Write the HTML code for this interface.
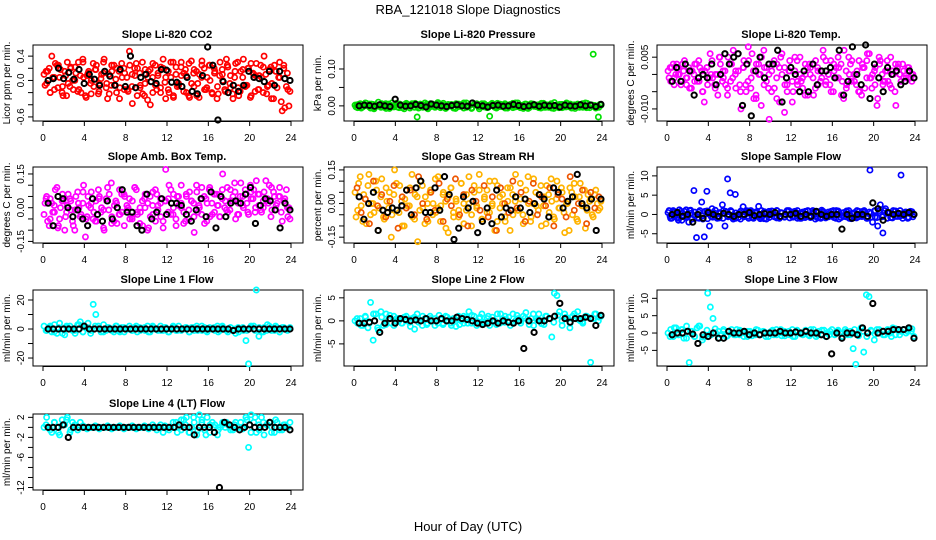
<!DOCTYPE html>
<html><head><meta charset="utf-8"><style>
body{margin:0;background:#fff;}
svg{display:block;font-family:"Liberation Sans",sans-serif;}
</style></head><body>
<svg id="c" width="936" height="540" viewBox="0 0 936 540">
<rect width="936" height="540" fill="#fff"/>
<text x="468" y="14" text-anchor="middle" font-size="13">RBA_121018  Slope Diagnostics</text>
<text x="468" y="531" text-anchor="middle" font-size="13">Hour of Day (UTC)</text>
</svg>
<script>
// x-axis tick values (hours)
const xTicks = [0,4,8,12,16,20,24];
// Panel titles, units, colours
const titles = ["Slope Li-820 CO2","Slope Li-820 Pressure","Slope Li-820 Temp.","Slope Amb. Box Temp.","Slope Gas Stream RH","Slope Sample Flow","Slope Line 1 Flow","Slope Line 2 Flow","Slope Line 3 Flow","Slope Line 4 (LT) Flow"];
const yTitles = ["Licor ppm per min.","kPa per min.","degrees C per min.","degrees C per min.","percent per min.","ml/min per min.","ml/min per min.","ml/min per min.","ml/min per min.","ml/min per min."];
const colors = ["#ff0000","#00e000","#ff00ff","#ff00ff","#ffb300","#0000ff","#00ffff","#00ffff","#00ffff","#00ffff"];
const colorsC = ["#ff0000","#00e000","#ff00ff","#ff00ff","#ee5500","#0000ff","#00ffff","#00ffff","#00ffff","#00ffff"];
const units = [0.01,0.001,0.001,0.01,0.01,1,1,1,1,1];
const yDomains = [[-0.667,0.583],[-0.041,0.165],[-0.0135,0.00853],[-0.157,0.181],[-0.176,0.163],[-7.4,12.3],[-25.5,26.9],[-9.8,6.7],[-9.5,12.4],[-12.5,2.67]];
const yTickVals = [[-0.6,-0.4,-0.2,0,0.2,0.4],[0,0.05,0.1],[-0.01,-0.005,0,0.005],[-0.15,-0.1,-0.05,0,0.05,0.1,0.15],[-0.15,-0.1,-0.05,0,0.05,0.1,0.15],[-5,0,5,10],[-20,-10,0,10,20],[-5,0,5],[-5,0,5,10],[-12,-10,-8,-6,-4,-2,0,2]];
const yTickLabels = [["-0.6","","","0.0","","0.4"],["0.00","","0.10"],["-0.010","","","0.005"],["-0.15","","","0.00","","","0.15"],["-0.15","","","0.00","","","0.15"],["-5","0","5","10"],["-20","","0","","20"],["-5","0","5"],["-5","0","5","10"],["-12","","","-6","","-2","","2"]];

// coloured series A (per panel, in panel units)
const seriesA = [
[10,-5,20,40,-15,25,5,-20,15,30,-10,0,22,-18,8,35,-25,12,-5,28,18,-22,3,30,-12,10,-8,25,-20,15,28,-15,5,48,-10,20,-25,12,30,-5,-32,18,-20,25,8,-12,35,-30,15,5,-28,22,-8,30,12,-20,28,-5,18,-25,10,32,-15,5,25,-22,15,-10,30,0,-18,22,8,-30,28,-12,15,35,-8,20,-25,10,28,-15,5,40,-22,18,-5,25,-12,30,-50,-45,12,-18],
[2,-5,6,-3,8,0,-6,4,-2,10,-4,3,-7,5,1,-3,7,-5,2,-8,4,0,6,-4,-30,3,-2,8,-6,1,5,-3,9,-5,2,-7,4,0,-4,6,-2,3,-6,8,-1,-5,4,2,-8,6,-3,1,-28,5,-4,7,-2,3,-6,0,4,-5,8,-2,1,-7,5,-3,6,-1,2,-5,7,-4,3,0,-6,9,-2,4,-5,1,6,-3,2,-7,5,0,-4,8,-2,3,140,-6,-30,2],
[1,-2,3,0,2,-3,1,-1,2,-4,0,3,-2,1,-8,2,-1,4,-3,0,5,-2,1,-4,3,-1,0,6,-5,2,-3,8,-4,1,-6,3,-9,7,-2,0,-5,4,-7,2,6,-11,-3,1,-8,5,-2,0,-4,3,-6,2,-1,4,-3,1,5,-2,0,-5,3,-1,2,-6,7,-3,0,4,-2,1,-5,3,-4,6,-1,0,2,-7,4,-3,1,-2,5,0,-9,3,-2,1,-1,2,0,-1],
[-3,5,-8,2,-2,9,-5,3,-10,1,4,-6,-1,7,-4,2,-13,5,0,-5,3,8,-2,-9,4,-1,11,-6,2,-3,6,-8,1,4,-4,9,-2,-7,3,0,-10,5,-3,8,-1,2,-6,17,4,-3,6,-8,1,10,-2,5,-5,3,-11,7,0,4,-7,2,9,-3,6,1,-4,15,3,-2,8,5,-5,2,11,0,6,-3,4,8,12,1,-2,7,3,10,-1,5,2,9,-6,4,0,-5],
[5,-3,12,-8,2,8,-5,0,10,-12,3,-6,7,-2,-15,4,9,-4,1,-10,6,-1,13,-7,3,-3,8,-9,0,5,-5,11,-2,-8,4,1,-13,7,-4,2,-6,9,0,-3,12,-10,5,-1,6,-7,3,-4,10,0,-12,8,-2,4,-8,1,7,-5,13,-3,2,-9,6,0,-6,11,-1,4,-10,3,8,-4,1,-7,10,-2,5,-13,0,7,-5,3,-8,9,-1,-11,4,2,-6,6,-3,1],
[0.5,-1,1,0,-1.5,0.8,-0.5,1.2,-2,0.3,6.2,-6,-1,3.2,-5.8,6,-3,1.5,-0.5,-1,0.5,2.5,-3,9.2,5.6,-0.8,5.2,0,-1.2,2,0.5,-0.5,1,-1,0.3,2.1,-0.8,0.5,-1.2,0.8,0,-0.5,1,-0.8,0.4,-0.6,1,0,-0.5,0.8,-1,0.3,0.6,-0.4,1,-0.8,0.2,-0.5,0.7,-1,0.5,0,-0.6,0.8,-0.3,1,-1.2,0.4,-0.5,0.9,-1,0.3,-0.8,1,0,-0.5,0.6,-1,11.5,-2,1,-3,2.5,-4.8,1.5,0.5,-0.8,1,-0.5,0.2,10.2,-0.3,0.6,-0.8,0.4,0],
[2,-1,1,-2,3,-3,4,0,-4,1,2,-1,-3,3,5,-2,1,4,-3,17,10,2,-2,3,-1,1,0,-2,2,-1,1,-2,0,2,-1,1,-2,1,0,-1,2,-2,1,0,-1,2,-1,1,-2,0,1,-1,2,-1,0,1,-2,1,-1,2,0,-1,1,-2,1,0,-1,2,-1,1,0,-2,1,-1,-3,1,0,-1,-8,-24,1,2,27,-5,-2,1,-1,2,0,-1,1,-2,1,0,-1,1],
[0,-0.5,0.5,-1,0.8,-1.5,4,-4.2,1.5,-2,2,-1,1.5,0.5,-0.5,1,0.5,0,-0.5,0.8,0,-0.3,0.5,-1.8,1.5,0,-1,0.5,-0.5,1,0,0.5,-0.5,0.3,-0.8,1,0,-0.5,0.5,-1.2,1,0,-0.5,0.8,2,-0.5,1,-1,0.5,1.5,-0.3,0.5,-1,0.8,0,1.5,-0.5,0.5,1,0,-1,1.5,0,0.5,-0.5,1,1.8,0,0.5,-1,0.5,1.5,0,-0.8,1,0.5,-3.5,6,5.5,2,-1,1.5,0.5,-1.5,1,0.5,2,0,-0.5,1,0.8,-9,0.5,1.5,0,1],
[0,1,-1,1.5,-0.5,1,-1.5,2,-8.5,0.5,-1,1.5,2,-2,-1,11.5,7.5,4.2,0,0.5,-0.5,1,-1,0.5,0,-0.5,1,-0.5,0.5,0,-1,0.5,0,-0.5,0.8,-0.3,0.5,-1,0,0.5,-0.5,1,0,-0.8,0.5,0,-0.5,1,-1,0.5,0,-0.5,0.8,-0.5,1,0,-1,0.5,-0.3,0.8,0,-0.5,1,-0.5,0.5,0,-1,1,-0.5,0.5,-4.5,-9,0,1.5,-5.5,11,10.5,0.5,-2,1,0,0.5,-0.5,1,0,1.5,-0.5,1,0.5,1,0,1,0.5,-1],
[0,2,0,-1,1,0,-1.5,1.5,0.5,2,-1,1,0,-0.5,1,0,0,0,0,0,0,0,0,0,0,0,0,0,0,0,0,0,0,0,0,0,0,0,0,0,0,0,0,0,0,0.5,-1,0,0,0,0,1,0,-0.5,1.5,2,-1,0,1,-1.5,2.5,1.5,-0.5,2,-1,1,0.5,-1.5,0,1,0,0.5,0,-0.5,1,0,1,0,2,-4,2.5,1,-1,0.5,2,-1.5,0.5,1,0,-1,1,0,-0.5,0.5,0,1]
];
// coloured series B (second pass)
const seriesB = [
[-8,15,-20,5,28,-12,18,-25,8,-5,22,-15,12,30,-20,5,-28,15,0,-10,25,-18,10,35,-5,-22,15,-8,20,-30,5,12,-15,25,-38,8,20,-12,-22,18,5,-40,28,-8,12,-20,20,5,-15,30,-25,10,-5,22,-18,8,-25,32,-10,15,-28,5,20,-12,25,-20,12,-30,8,18,-15,25,-5,-22,15,30,-18,5,-10,20,-28,12,8,-15,25,-20,10,-8,22,-30,15,5,-35,25,-10,-42],
[-3,4,-6,2,7,-2,5,-8,3,0,6,-4,2,-7,8,1,-3,5,-5,4,0,-6,3,7,-2,5,-4,1,-8,6,2,-3,4,-1,7,-5,0,3,-6,2,5,-2,8,-4,1,-7,3,6,-3,0,4,-5,2,7,-1,-4,5,-2,6,-6,3,0,-3,8,-5,2,4,-7,1,5,-2,3,-6,7,0,-4,6,-1,2,-5,4,-3,8,0,-6,3,1,-4,5,-2,7,-5,2,0,-3,4],
[-1,2,-3,3,0,-2,4,-1,-4,1,3,-2,2,-5,1,-3,6,-1,0,-6,3,1,-3,5,-2,7,-4,1,-10,2,-5,4,-1,-7,3,0,5,-3,2,-13,1,-4,3,-8,0,2,-5,4,-2,1,-3,5,-1,-6,2,0,3,-4,1,-2,7,-3,0,4,-5,2,-1,3,-7,1,5,-2,0,-3,4,-6,2,-1,6,-4,1,-9,3,0,-2,4,-3,1,-5,2,0,3,-2,1,-1,0],
[2,-6,4,-2,8,-9,0,3,-4,6,-1,-8,5,2,-3,10,-5,1,7,-2,-6,4,0,-10,3,6,-4,1,-7,8,-2,5,-1,-5,3,9,-3,0,-8,6,2,-4,7,-6,1,4,-9,3,-2,8,0,-5,5,2,-7,6,-1,3,-4,10,1,-3,5,-6,8,2,-2,6,-4,4,0,9,-1,3,7,-3,5,1,8,-2,10,4,0,6,-1,3,12,2,-4,7,1,5,-2,3,8,0],
[-6,9,-1,4,-9,13,0,-4,6,-2,11,-7,1,5,-5,15,-3,8,-10,2,-1,7,-6,4,-17,10,-2,3,-8,6,0,-4,12,-1,5,-11,3,7,-6,1,-3,9,-9,4,0,-5,8,-2,13,-7,2,6,-4,-1,10,-8,3,0,-6,7,-12,4,1,-3,9,-5,2,12,-8,0,5,-3,8,-1,-9,4,11,-6,2,-2,7,-4,0,-12,5,9,-7,3,-1,6,-3,1,-5,4,0,-2],
[1,-1,0.5,-0.8,1.2,-1.5,0.8,-0.5,1,-1.2,0.6,-0.9,1,-0.4,0.8,-1.1,0.5,-0.7,1.1,-0.9,0.3,-1,0.8,-0.6,1,-1.2,0.4,-0.8,0.9,-0.5,1,-1,0.6,-0.9,0.7,-0.4,1,-1.1,0.5,-0.8,0.9,-0.6,1,-1,0.4,-0.7,0.8,-0.9,0.6,-0.5,1,-1,0.3,-0.8,0.9,-0.6,1,-1.2,0.5,-0.7,0.8,-0.9,0.6,-0.4,1,-1,0.7,-0.8,0.5,-0.6,1,-1.1,0.4,-0.9,0.8,-0.5,1,-1,0.6,-0.7,0.9,-0.8,0.5,-0.6,1,-1,0.4,-0.9,0.8,-0.5,1,-1,0.6,-0.7,0.8,-0.6],
[],[],[],[]
];
// coloured series C (third pass)
const seriesC = [
[15,-20,5,25,-10,-25,20,0,-15,30,8,-22,18,-5,12,-30,25,2,-12,20,-18,10,28,-8,-25,15,5,-15,22,-3,-20,30,-10,8,18,-28,12,-5,25,-15,0,20,-22,10,35,-12,5,-25,18,-8,28,-18,8,22,-10,-30,15,5,20,-15],
[3,-4,1,5,-6,2,-2,6,-3,0,4,-5,7,-1,2,-6,3,5,-2,-4,6,0,-3,4,-7,2,5,-1,-5,3,0,6,-4,1,-6,4,2,-3,7,-2,0,5,-5,3,-1,6,-4,2,-7,1,4,-3,5,0,-2,6,-5,3,1,-4],
[2,-1,0,3,-3,1,-2,4,-5,2,0,-4,5,-1,-6,3,1,-3,4,-2,6,-7,0,2,-4,3,-1,5,-3,1,-5,4,-2,0,3,-6,2,-1,4,-3,1,5,-2,-4,3,0,-5,2,4,-1,-3,5,-2,1,-4,3,0,-1,2,-2],
[4,-5,1,-8,6,-2,3,-10,0,7,-4,2,-6,5,-1,9,-7,3,-3,6,0,-5,8,-2,4,-9,1,6,-4,3,10,-3,5,0,-6,7,2,-2,9,4,-4,6,1,8,-1,3,11,-3,5,2,7,-2,6,0,4,9,-1,5,3,-4],
[7,-4,2,-9,10,-1,4,-6,1,8,-11,3,-2,6,-5,12,0,-7,5,-3,9,-8,2,-1,11,-5,4,-10,6,1,-3,8,-6,3,-12,7,0,-4,10,-2,5,-8,1,9,-5,3,-1,7,-10,4,2,-6,12,-3,0,6,-9,5,-2,3],
[-0.5,0.7,-1,0.4,-0.8,1.1,-0.3,0.6,-1.2,0.9,-0.5,0.3,-0.9,1,-0.4,0.7,-1,0.5,-0.6,0.9,-0.8,0.4,-1.1,0.7,-0.2,0.8,-0.9,0.5,-0.6,1,-0.7,0.3,-1,0.8,-0.4,0.6,-0.9,1.1,-0.5,0.4,-0.8,0.9,-0.3,0.7,-1,0.5,-0.6,0.8,-0.9,0.3,-0.7,1,-0.4,0.6,-0.8,0.9,-0.5,0.4,-1,0.7],
[-1,2,-2,1,-3,2,0,-1,3,-2,1,-1,2,0,-2,1,-1,2,-2,1,0,-1,2,-1,1,-2,2,0,-1,1,-2,2,-1,0,1,-2,1,-1,2,-1,0,1,-2,2,-1,1,0,-2,1,-1,2,-1,1,-2,3,-1,2,-2,1,0],
[0.5,-1,1,-0.5,1.5,-1.5,0.8,-0.8,1.2,-1,0.5,-0.5,1,-1.2,0.8,-0.3,1,-0.8,0.5,-1,1.2,-0.5,0.8,-1,0.3,-0.8,1,-0.5,1.2,-0.2,0.8,-0.6,1,0,-0.8,1.5,-0.3,0.8,-0.5,1.2,0,0.6,-0.8,1.5,0.2,-0.6,1,0.5,-0.3,1.2,0,0.8,-0.5,1.5,0.3,-0.2,1,0.6,1.5,0.8],
[-1,1.5,-0.5,1,-1.5,0.5,-1,2,-1.2,0.8,-0.5,1.2,-1.5,0.5,-0.8,1,-0.5,0.8,-1,0.5,-0.8,1,-0.5,0.3,-1,0.8,-0.5,1,-0.8,0.5,-1,0.8,-0.3,0.5,-0.8,1,-0.5,0.8,-1,0.5,-0.3,0.8,-1.2,0.5,-0.5,1,-0.8,0.5,-1,0.8,-0.3,1,-0.5,0.8,-1,1.2,-0.5,1,0.5,1.2],
[0.5,-0.5,1,-1,0.5,1.5,-0.5,0.5,0,0.3,-0.3,0,0.3,-0.3,0,0.3,-0.3,0,0.3,-0.3,0,0.3,-0.3,0,0.3,-0.3,0.5,-0.5,0,0.3,-0.5,1,-1,1.5,0.5,-1,2,-0.5,1,-1.5,0.5,0,-0.5,0.5,1,-0.5,0.5,0,-0.3,1.5,-1,2,-0.5,1,0.5,-1,1.5,-0.5,0.5,0]
];
// black series (half-hourly)
const seriesK = [
[0,3,20,3,13,2,18,-5,10,2,-8,15,7,-8,18,-10,40,-12,5,10,-2,-5,18,17,-3,-3,-10,5,-18,-22,8,55,25,-65,-2,-20,-8,-18,-8,15,5,3,-2,15,-8,15,3,0],
[0,2,1,-1,3,0,-2,18,2,-1,0,4,1,-3,5,2,0,-2,1,3,0,-1,8,2,0,-3,1,2,-1,0,4,1,-2,0,3,-1,2,0,1,-3,2,0,-1,3,0,2,-2,4],
[-2,2,-2,3,1,-6,-1,0,-1,3,-3,0,6,3,5,6,-9,3,-12,1,5,-1,3,3,7,-8,-1,2,0,-5,1,-5,3,-3,1,1,2,-1,7,-6,-2,8,0,-3,9,-7,3,-1,-5,2,0,1,-3,-2,1,-1],
[2,-8,5,4,0,-4,-1,-5,-8,4,-3,-6,3,-5,0,8,-2,-2,-8,-10,6,-5,-2,4,-3,2,2,1,-3,-6,-1,4,-4,7,-9,5,-4,2,3,2,6,9,-7,1,4,3,-1,-9,2,-1],
[3,-7,0,5,-12,-3,-4,-2,-3,-1,6,-5,7,10,-4,-4,7,-3,12,4,-16,-11,3,-2,1,-13,-8,-2,-9,6,-6,-2,-3,3,-2,2,-4,0,4,2,-6,7,5,-2,1,3,13,0,-2,2,-12,2],
[0,0.5,-0.5,0,-2,0,-1,0.5,0,-0.5,0.3,0,-0.5,0,0,0.5,-0.3,0,0.2,0,0.5,-0.5,0,0,0.3,-0.5,0,-0.5,0.8,0,-0.5,0,0,-3.8,0,-1,0,0,-0.5,3,1.5,-1.5,0.5,0,0.3,0,0.5,0],
[0,0,0,0,0,0,0,2,0,0,0,0,0,0,0,0,0,0,0,0,0,0,0,0,0,0,0,0,0,0,0,0,0,0,0,0,-1,0,0,0,0,0,0,0,0,0,0,0],
[-0.5,-0.5,-0.3,0,-2.5,-0.5,0.5,-0.5,0.5,0.3,0,0.2,0,0.5,0,0,0.5,0,0,0.8,0.5,0.3,0,-0.5,-0.8,-0.5,0,-0.5,0,-0.3,-0.5,0,-6,0,-2.5,0,0,0.5,1,3.8,0.5,-0.3,0.5,0.5,0.8,0.5,-1,1.2],
[-0.5,0,0,0.5,-0.3,-3,-0.5,-1,0,-1.5,-1.5,0.5,0,0,0.5,-0.5,0,-0.5,0,0,0,0.5,0,0,0.3,0,0.5,0,0,-0.5,-1,-6,0,-1.5,0,0,-0.5,1.5,0,8.5,0,0.5,0.5,1,1,1,1.5,-1.5],
[0,0,0,0.5,-2,0,0,0,0,0,0,0,0,0,0,0,0,0,0,0,0,0,0,0,0,0,0.5,0,0,-1.5,0,0,0,-1,-12,1,0.5,0,-0.5,0,0.5,0,0,0,1,0,0,0,-0.5]
];

const NS = "http://www.w3.org/2000/svg";
const svg = document.getElementById('c');
const colX = [43,354,667], rowY = [45,167,290,414], AXW = 248, BOXH = 76;
function mk(tag, attrs, parent){const e=document.createElementNS(NS,tag);for(const k in attrs)e.setAttribute(k,attrs[k]);(parent||svg).appendChild(e);return e;}

titles.forEach((title, p) => {
  const c = p % 3, r = Math.floor(p / 3);
  const x0 = colX[c], top = rowY[r], bot = top + BOXH;
  const [ymin, ymax] = yDomains[p];
  const xS = h => x0 + h / 24 * AXW;
  const yS = v => bot - (v - ymin) / (ymax - ymin) * BOXH;
  const g = mk('g', {});
  
  
  const t = mk('text', {x: x0 + AXW / 2, y: top - 7, 'text-anchor': 'middle', 'font-size': 11, 'font-weight': 'bold'}, g);
  t.textContent = title;
  
  
  const box = mk('rect', {x: x0 - 10, y: top, width: AXW + 22, height: BOXH, fill: 'none', stroke: '#000', 'stroke-width': 1}, g);
  
  
  xTicks.forEach(h => {
    mk('line', {x1: xS(h), x2: xS(h), y1: bot, y2: bot + 5, stroke: '#000'}, g);
    const l = mk('text', {x: xS(h), y: bot + 20, 'text-anchor': 'middle', 'font-size': 10}, g);
    l.textContent = h;
    
    
  });
  mk('line', {x1: xS(0), x2: xS(24), y1: bot + 0.5, y2: bot + 0.5, stroke: '#000'}, g);
  const xl = x0 - 10;
  const yt = yTickVals[p];
  mk('line', {x1: xl, x2: xl, y1: yS(yt[0]), y2: yS(yt[yt.length - 1]), stroke: '#000'}, g);
  yt.forEach((v, i) => {
    mk('line', {x1: xl - 5, x2: xl, y1: yS(v), y2: yS(v), stroke: '#000'}, g);
    if (yTickLabels[p][i]) {
      const l = mk('text', {x: 0, y: 0, 'text-anchor': 'middle', 'font-size': 10, transform: `translate(${xl - 9},${yS(v)}) rotate(-90)`}, g);
      l.textContent = yTickLabels[p][i];
      
      
    }
  });
  const yl = mk('text', {x: 0, y: 0, 'text-anchor': 'middle', 'font-size': 10, transform: `translate(${xl - 23},${(top + bot) / 2}) rotate(-90)`}, g);
  yl.textContent = yTitles[p];
  
  
  const u = units[p];
  const drawSeries = (vals, color, t0, t1, sw, name) => {
    const n = vals.length;
    vals.forEach((v, i) => {
      const h = t0 + (n > 1 ? i * (t1 - t0) / (n - 1) : 0);
      const vv = Math.max(ymin, Math.min(ymax, v * u));
      const pt = mk('circle', {cx: xS(h), cy: yS(vv), r: 2.6, fill: 'none', stroke: color, 'stroke-width': sw}, g);
      
      
    });
  };
  drawSeries(seriesA[p], colors[p], 0.1, 23.9, 1.7, 'colored-point');
  drawSeries(seriesB[p], colors[p], 0.2, 23.8, 1.7, 'colored-point');
  drawSeries(seriesC[p], colorsC[p], 0.3, 23.7, 1.7, 'colored-point');
  drawSeries(seriesK[p], '#000', 0.5, 23.9, 2, 'black-point');
});
</script>
</body></html>
